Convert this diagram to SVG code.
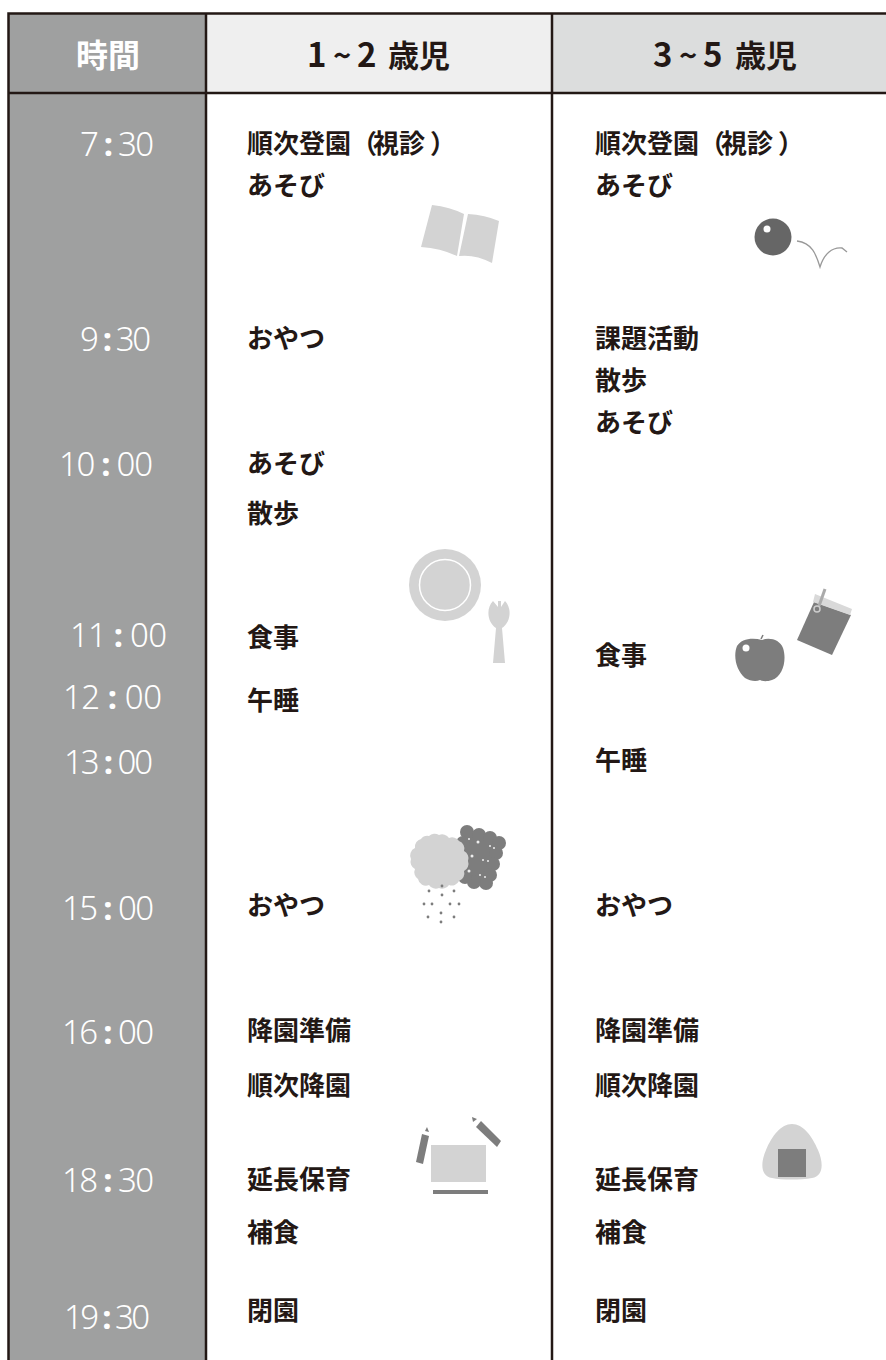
<svg xmlns="http://www.w3.org/2000/svg" width="886" height="1360" viewBox="0 0 886 1360">
<style>
.l{font-family:"Noto Sans CJK JP","Noto Sans",sans-serif;font-weight:700;font-size:26px;fill:#231815}
.t{font-family:"Noto Sans","Open Sans",sans-serif;font-size:33px;fill:#fff;font-weight:300}
.c{font-weight:700}
.h{font-family:"Noto Sans CJK JP","Noto Sans",sans-serif;font-weight:700;font-size:31px;fill:#231815}
.g{fill:#d3d3d3}.d{fill:#7d7d7d}
.b{fill:none;stroke:#231815;stroke-width:2.5}
</style>
<rect width="886" height="1360" fill="#fff"/>
<g id="table">
<rect x="8" y="13" width="198" height="1347" fill="#9fa0a0"/>
<rect x="206" y="13" width="346" height="80" fill="#efefef"/>
<rect x="552" y="13" width="334" height="80" fill="#dcdddd"/>
<path class="b" d="M886 13.500H8.500V1360M206 13V1360M552 13V1360M8 93H886"/>
</g>
<g id="headers">
<text class="h" x="76" y="67" style="fill:#fff;font-size:32px">時間</text>
<text class="h" y="67"><tspan x="307" font-size="33">1</tspan><tspan x="333">~</tspan><tspan x="357" font-size="33">2</tspan><tspan x="388">歳児</tspan></text>
<text class="h" y="67"><tspan x="653" font-size="33">3</tspan><tspan x="679">~</tspan><tspan x="703" font-size="33">5</tspan><tspan x="735">歳児</tspan></text>
</g>
<g id="times">
<text class="t" x="80" y="156" textLength="74">7 <tspan class="c">:</tspan> 30</text>
<text class="t" x="80" y="351" textLength="71">9 <tspan class="c">:</tspan> 30</text>
<text class="t" x="59" y="476" textLength="94">10 <tspan class="c">:</tspan> 00</text>
<text class="t" x="70" y="647" textLength="97">11 <tspan class="c">:</tspan> 00</text>
<text class="t" x="63" y="709" textLength="99">12 <tspan class="c">:</tspan> 00</text>
<text class="t" x="64" y="774" textLength="89">13 <tspan class="c">:</tspan> 00</text>
<text class="t" x="62" y="920" textLength="92">15 <tspan class="c">:</tspan> 00</text>
<text class="t" x="62" y="1044" textLength="92">16 <tspan class="c">:</tspan> 00</text>
<text class="t" x="62" y="1192" textLength="92">18 <tspan class="c">:</tspan> 30</text>
<text class="t" x="64" y="1329" textLength="86">19 <tspan class="c">:</tspan> 30</text>
</g>
<g id="col1">
<text class="l" x="247" y="153">順次登園（<tspan dx="-4">視診</tspan><tspan dx="5">）</tspan></text>
<text class="l" x="247" y="195">あそび</text>
<text class="l" x="247" y="348">おやつ</text>
<text class="l" x="247" y="473">あそび</text>
<text class="l" x="247" y="523">散歩</text>
<text class="l" x="247" y="647">食事</text>
<text class="l" x="247" y="710">午睡</text>
<text class="l" x="247" y="915">おやつ</text>
<text class="l" x="247" y="1040">降園準備</text>
<text class="l" x="247" y="1095">順次降園</text>
<text class="l" x="247" y="1189">延長保育</text>
<text class="l" x="247" y="1242">補食</text>
<text class="l" x="247" y="1320">閉園</text>
</g>
<g id="col2">
<text class="l" x="595" y="153">順次登園（<tspan dx="-4">視診</tspan><tspan dx="5">）</tspan></text>
<text class="l" x="595" y="195">あそび</text>
<text class="l" x="595" y="348">課題活動</text>
<text class="l" x="595" y="390">散歩</text>
<text class="l" x="595" y="432">あそび</text>
<text class="l" x="595" y="665">食事</text>
<text class="l" x="595" y="770">午睡</text>
<text class="l" x="595" y="915">おやつ</text>
<text class="l" x="595" y="1040">降園準備</text>
<text class="l" x="595" y="1095">順次降園</text>
<text class="l" x="595" y="1189">延長保育</text>
<text class="l" x="595" y="1242">補食</text>
<text class="l" x="595" y="1320">閉園</text>
</g>
<g id="book">
<path class="g" d="M432 205Q450 207 464 214L457 256Q440 248 421 247Z"/>
<path class="g" d="M468 214Q485 215 499 221L492 263Q475 254 459 256Z"/>
</g>
<g id="ball">
<circle cx="773" cy="237" r="18.500" fill="#666"/>
<circle cx="767" cy="229" r="3.500" fill="#fff"/>
<path d="M797 241C812 243 816 254 820 267C824 254 832 247 842 248L847 252" fill="none" stroke="#999" stroke-width="1.300"/>
</g>
<g id="plate">
<circle class="g" cx="445" cy="585" r="36"/>
<circle cx="445" cy="585" r="25.500" fill="none" stroke="#fff" stroke-width="1.500"/>
<path class="g" d="M493 601C486 608 487 622 496 628L493 663H505L502 628C511 622 512 608 505 601L501 607V601H498V607Z"/>
</g>
<g id="apple">
<path class="d" d="M762 640C770 637 780 640 783 648C787 660 783 676 772 680C766 682 762 681 760 680C756 682 750 681 745 678C736 670 733 656 737 646C741 639 752 637 762 640Z"/>
<path d="M761 639L763 635" stroke="#7d7d7d" stroke-width="1.500"/>
<circle cx="746" cy="648" r="3.500" fill="#fff"/>
</g>
<g id="tag">
<path class="d" d="M814 602L851 615L832 655L797 640Z"/>
<path fill="#d9d9d9" d="M815 594L852 609L850 615L813 602Z"/>
<path d="M825 589L819 606" stroke="#aaa" stroke-width="3"/>
<circle cx="817" cy="609" r="3" fill="none" stroke="#ccc" stroke-width="1.500"/>
</g>
<g id="snack">
<path class="d" d="M463 830L499 843L486 884L462 872Z"/>
<g class="d"><circle cx="467" cy="832" r="7"/><circle cx="479" cy="835" r="7"/><circle cx="490" cy="838" r="7"/><circle cx="499" cy="843" r="7"/><circle cx="496" cy="853" r="7"/><circle cx="493" cy="864" r="7"/><circle cx="490" cy="875" r="7"/><circle cx="486" cy="883" r="7"/><circle cx="474" cy="882" r="7"/><circle cx="465" cy="877" r="7"/><circle cx="462" cy="866" r="7"/><circle cx="465" cy="855" r="7"/><circle cx="463" cy="843" r="7"/></g>
<g fill="#eee"><circle cx="469" cy="839" r="1"/><circle cx="478" cy="842" r="1.500"/><circle cx="490" cy="846" r="1"/><circle cx="494" cy="848" r="1"/><circle cx="472" cy="856" r="1.500"/><circle cx="483" cy="860" r="1"/><circle cx="488" cy="861" r="1"/><circle cx="469" cy="871" r="1.500"/><circle cx="480" cy="875" r="1"/><circle cx="485" cy="877" r="1"/></g>
<path class="g" d="M439 835a8 8 0 0 1 10 3a8 8 0 0 1 10 3a8 8 0 0 1 5 10a8 8 0 0 1 4 10a8 8 0 0 1 -4 10a8 8 0 0 1 -5 10a8 8 0 0 1 -10 4a8 8 0 0 1 -10 3a8 8 0 0 1 -10 -3a8 8 0 0 1 -11 -6a8 8 0 0 1 -3 -10a8 8 0 0 1 -4 -10a8 8 0 0 1 4 -11a8 8 0 0 1 6 -9a8 8 0 0 1 8 -3a8 8 0 0 1 10 -1Z"/>
<g fill="#7d7d7d"><circle cx="442" cy="886" r="1.400"/><circle cx="429" cy="891" r="1.400"/><circle cx="442" cy="895" r="1.400"/><circle cx="454" cy="891" r="1.400"/><circle cx="424" cy="904" r="1.400"/><circle cx="432" cy="904" r="1.400"/><circle cx="450" cy="904" r="1.400"/><circle cx="459" cy="904" r="1.400"/><circle cx="441" cy="913" r="1.400"/><circle cx="428" cy="917" r="1.400"/><circle cx="454" cy="917" r="1.400"/><circle cx="441" cy="922" r="1.400"/></g>
</g>
<g id="pencils">
<rect class="g" x="431" y="1145" width="55" height="37"/>
<rect class="d" x="433" y="1190" width="55" height="4"/>
<path class="d" d="M422 1134L429 1136L423 1164L416 1162Z"/>
<path class="d" d="M425 1131L429 1132L427 1127Z"/>
<path class="d" d="M476 1127L481 1121L501 1141L497 1147Z"/>
<path class="d" d="M473 1122L477 1119L472 1117Z"/>
</g>
<g id="onigiri">
<path class="g" d="M792 1124C803 1124 812 1136 818 1150C824 1164 823 1176 812 1178C800 1180 782 1180 772 1178C761 1176 760 1164 766 1150C772 1136 781 1124 792 1124Z"/>
<rect class="d" x="778" y="1149" width="28" height="28"/>
</g>
</svg>
